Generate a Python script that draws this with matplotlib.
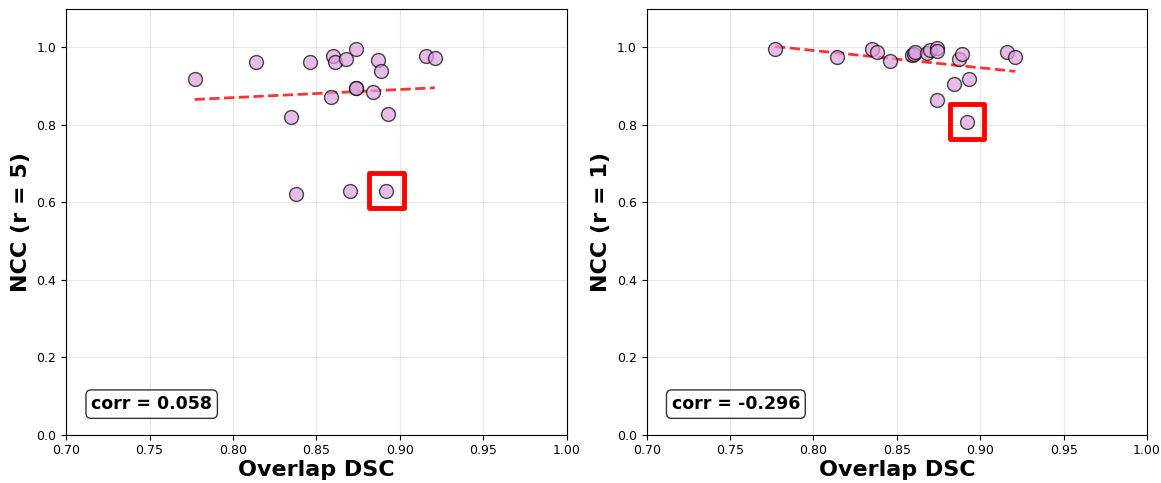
import numpy as np
import matplotlib.pyplot as plt

# Overlap DSC per case (shared by both panels)
dsc = [0.777, 0.814, 0.835, 0.838, 0.846, 0.859, 0.860, 0.861, 0.868, 0.870,
       0.874, 0.874, 0.874, 0.884, 0.887, 0.889, 0.892, 0.893, 0.916, 0.921]
# NCC with r = 5
ncc_r5 = [0.919, 0.962, 0.821, 0.622, 0.962, 0.872, 0.978, 0.963, 0.970, 0.630,
          0.996, 0.896, 0.895, 0.886, 0.967, 0.939, 0.630, 0.827, 0.979, 0.973]
# NCC with r = 1
ncc_r1 = [0.995, 0.975, 0.995, 0.988, 0.966, 0.981, 0.983, 0.988, 0.985, 0.994,
          0.998, 0.990, 0.864, 0.905, 0.970, 0.982, 0.808, 0.918, 0.989, 0.974]
highlight = 16  # index of the boxed case
corr_values = [0.058, -0.296]
ylabels = ['NCC (r = 5)', 'NCC (r = 1)']


def panel(ax, x, y, ylabel, corr):
    x = np.array(x)
    y = np.array(y)
    ax.scatter(x, y, s=100, color='plum', alpha=0.7, edgecolor='black', linewidth=1, zorder=3)
    m, b = np.polyfit(x, y, 1)
    xs = np.array([x.min(), x.max()])
    ax.plot(xs, m * xs + b, 'r--', linewidth=2, alpha=0.8, zorder=2)
    ax.scatter([x[highlight]], [y[highlight]], marker='s', s=620, facecolor='none',
               edgecolor='red', linewidth=3.5, zorder=4)
    ax.set_xlim(0.7, 1.0)
    ax.set_ylim(0, 1.1)
    ax.set_xticks(np.arange(0.70, 1.001, 0.05))
    ax.set_yticks(np.arange(0, 1.01, 0.2))
    ax.tick_params(labelsize=9)
    ax.grid(True, alpha=0.3)
    ax.set_xlabel('Overlap DSC', fontsize=16, fontweight='bold', labelpad=2)
    ax.set_ylabel(ylabel, fontsize=16, fontweight='bold')
    ax.text(0.05, 0.06, f'corr = {corr:.3f}', transform=ax.transAxes,
            fontsize=12.5, fontweight='bold',
            bbox=dict(boxstyle='round,pad=0.3', facecolor='white', edgecolor='black', alpha=0.8))


fig, axes = plt.subplots(1, 2, figsize=(11.61, 4.83), dpi=100)
panel(axes[0], dsc, ncc_r5, ylabels[0], corr_values[0])
panel(axes[1], dsc, ncc_r1, ylabels[1], corr_values[1])
plt.subplots_adjust(left=0.057, right=0.988, bottom=0.1, top=0.982, wspace=0.16)
plt.savefig('out.png')
plt.close()
